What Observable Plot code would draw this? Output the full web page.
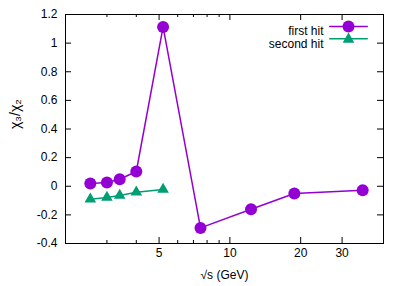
<!DOCTYPE html>
<html>
<head>
<meta charset="utf-8">
<script src="https://cdn.jsdelivr.net/npm/d3@7"></script>
<script src="https://cdn.jsdelivr.net/npm/@observablehq/plot@0.6"></script>
<style>
  html, body { margin: 0; padding: 0; background: white; }
</style>
</head>
<body>
<div id="chart"></div>
<script>
// Data
const xFirst = [2.55, 3.0, 3.4, 4.0, 5.2, 7.5, 12.3, 18.8, 36.7];
const yFirst = [0.019, 0.026, 0.049, 0.103, 1.113, -0.291, -0.161, -0.051, -0.028];
const xSecond = [2.55, 3.0, 3.4, 4.0, 5.2];
const ySecond = [-0.090, -0.078, -0.064, -0.042, -0.022];
const seriesNames = ["first hit", "second hit"];
const seriesColors = ["#9400d3", "#009e73"];
const xMajorTicks = [5, 10, 20, 30];
const xMinorTicks = [3, 4, 6, 7, 8, 9];
const yTicks = [-0.4, -0.2, 0, 0.2, 0.4, 0.6, 0.8, 1.0, 1.2];
const xLabel = "√s (GeV)";
const yLabel = "χ₃/χ₂";

const first = xFirst.map((x, i) => ({x, y: yFirst[i]}));
const second = xSecond.map((x, i) => ({x, y: ySecond[i]}));

const W = 407, H = 286;
const mL = 65, mR = 24, mT = 14, mB = 43;
const innerW = W - mL - mR, innerH = H - mT - mB;
const majorLen = 6, minorLen = 3;

const lineShape = { draw(context, l) { context.moveTo(0, 0); context.lineTo(0, -l); } };

const chart = Plot.plot({
  width: W, height: H,
  marginLeft: mL, marginRight: mR, marginTop: mT, marginBottom: mB,
  style: { fontFamily: "'Liberation Sans', Arial, sans-serif", fontSize: "12px", background: "white", color: "black" },
  x: { type: "log", domain: [2, 45], axis: null },
  y: { domain: [-0.4, 1.2], axis: null },
  marks: [
    // tick marks (inward, mirrored)
    Plot.tickX(xMajorTicks, { x: d => d, insetTop: innerH - majorLen, stroke: "black" }),
    Plot.tickX(xMajorTicks, { x: d => d, insetBottom: innerH - majorLen, stroke: "black" }),
    Plot.tickX(xMinorTicks, { x: d => d, insetTop: innerH - minorLen, stroke: "black" }),
    Plot.tickX(xMinorTicks, { x: d => d, insetBottom: innerH - minorLen, stroke: "black" }),
    Plot.tickY(yTicks, { y: d => d, insetRight: innerW - majorLen, stroke: "black" }),
    Plot.tickY(yTicks, { y: d => d, insetLeft: innerW - majorLen, stroke: "black" }),
    // tick labels
    Plot.text(xMajorTicks, { x: d => d, frameAnchor: "bottom", dy: 13.5, text: d => String(d), fill: "black" }),
    Plot.text(yTicks, { y: d => d, frameAnchor: "left", dx: -8, textAnchor: "end", text: d => String(+d.toFixed(1)), fill: "black" }),
    Plot.frame({ stroke: "black" }),
    Plot.text([xLabel], { frameAnchor: "bottom", dy: 35, fill: "black" }),
    Plot.text([yLabel], { frameAnchor: "left", dx: -50, rotate: -90, fontSize: 14, fill: "black" }),
    // series
    Plot.line(first, { x: "x", y: "y", stroke: seriesColors[0], strokeWidth: 1.5 }),
    Plot.dot(first, { x: "x", y: "y", r: 6, fill: seriesColors[0] }),
    Plot.line(second, { x: "x", y: "y", stroke: seriesColors[1], strokeWidth: 1.5 }),
    Plot.dot(second, { x: "x", y: "y", r: 4.3, symbol: "triangle", fill: seriesColors[1] }),
    // legend
    Plot.text([seriesNames[0]], { frameAnchor: "top-right", dx: -60, dy: 12, textAnchor: "end", fill: "black" }),
    Plot.text([seriesNames[1]], { frameAnchor: "top-right", dx: -60, dy: 24.5, textAnchor: "end", fill: "black" }),
    Plot.vector([0], { frameAnchor: "top-right", dx: -35, dy: 12, rotate: 90, length: 37.5, anchor: "middle", shape: lineShape, stroke: seriesColors[0], strokeWidth: 1.5 }),
    Plot.vector([0], { frameAnchor: "top-right", dx: -35, dy: 24.3, rotate: 90, length: 37.5, anchor: "middle", shape: lineShape, stroke: seriesColors[1], strokeWidth: 1.5 }),
    Plot.dot([0], { frameAnchor: "top-right", dx: -35, dy: 12, r: 6, fill: seriesColors[0] }),
    Plot.dot([0], { frameAnchor: "top-right", dx: -35, dy: 24.8, r: 4.3, symbol: "triangle", fill: seriesColors[1] })
  ]
});
document.getElementById("chart").appendChild(chart);
</script>
</body>
</html>
